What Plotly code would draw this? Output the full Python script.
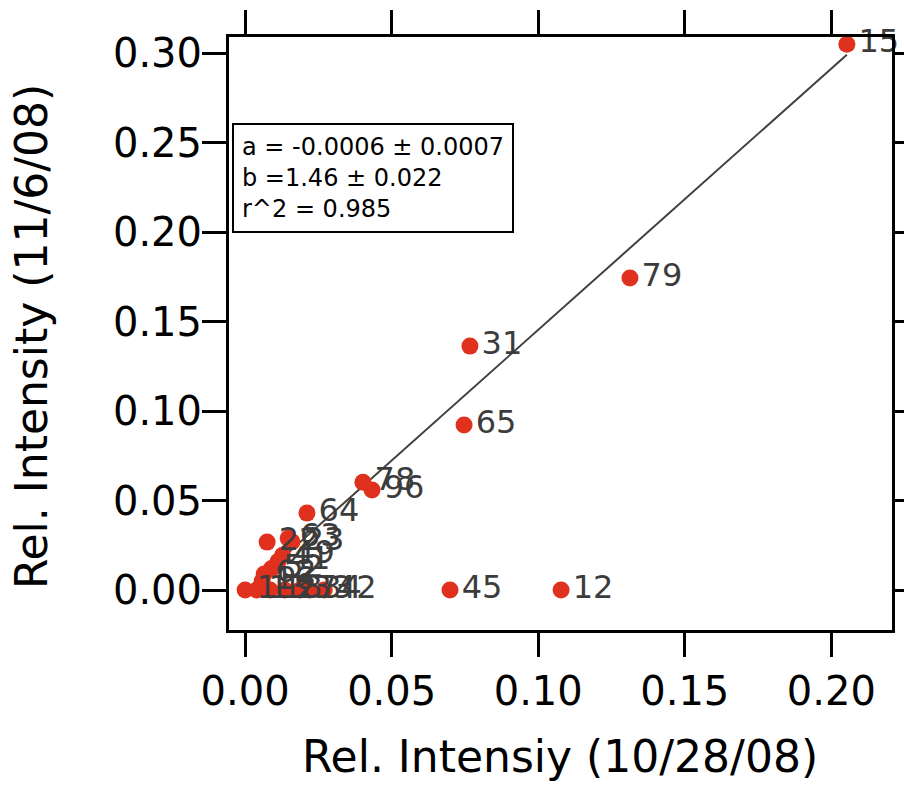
import plotly.graph_objects as go

# Peak intensities on the two sampling dates
peak_ids = ["15", "79", "31", "65", "78", "96", "64", "45", "12",
            "22", "63", "23", "49", "41", "52", "62", "16",
            "1", "13", "18", "27", "33", "34", "42"]
rel_1028 = [0.2053, 0.1313, 0.0767, 0.0747, 0.0402, 0.0433, 0.0211, 0.0699, 0.1078,
            0.0075, 0.0147, 0.0160, 0.0128, 0.0112, 0.0090, 0.0065, 0.0058,
            0.0000, 0.0040, 0.0085, 0.0135, 0.0187, 0.0220, 0.0270]
rel_1106 = [0.3050, 0.1743, 0.1363, 0.0922, 0.0603, 0.0559, 0.0430, 0.0000, 0.0000,
            0.0268, 0.0290, 0.0270, 0.0195, 0.0160, 0.0120, 0.0090, 0.0050,
            0.0000, 0.0000, 0.0000, 0.0000, 0.0000, 0.0000, 0.0000]

# Linear fit y = a + b*x
fit_a = -0.0006
fit_a_err = 0.0007
fit_b = 1.46
fit_b_err = 0.022
fit_r2 = 0.985

x_ticks = [0.00, 0.05, 0.10, 0.15, 0.20]
y_ticks = [0.00, 0.05, 0.10, 0.15, 0.20, 0.25, 0.30]

FONT = "DejaVu Sans"
x_lo, x_hi = min(rel_1028), max(rel_1028)
fit_x = [x_lo, x_hi]
fit_y = [fit_a + fit_b * v for v in fit_x]

fig = go.Figure()
fig.add_trace(go.Scatter(
    x=fit_x, y=fit_y, mode="lines",
    line=dict(color="#404040", width=2),
    hoverinfo="skip", showlegend=False,
))
fig.add_trace(go.Scatter(
    x=rel_1028, y=rel_1106, mode="markers+text",
    text=peak_ids, textposition="middle right",
    textfont=dict(family=FONT, size=32, color="#3c3c3c"),
    marker=dict(size=17, color="#e0301e"),
    cliponaxis=False, showlegend=False,
))

axis_common = dict(
    showline=True, linecolor="black", linewidth=3, mirror="ticks",
    ticks="outside", ticklen=24, tickwidth=3, tickcolor="black",
    showgrid=False, zeroline=False, automargin=False,
    tickfont=dict(family=FONT, size=40, color="black"),
)
fig.update_xaxes(range=[-0.0055, 0.2207], tickvals=x_ticks,
                 ticktext=[f"{v:.2f}" for v in x_ticks], **axis_common)
fig.update_yaxes(range=[-0.0223, 0.309], tickvals=y_ticks,
                 ticktext=[f"{v:.2f}" for v in y_ticks],
                 ticklabelstandoff=-8, **axis_common)

fit_text = (f"a = {fit_a:.4f} ± {fit_a_err:.4f}<br>"
            f"b ={fit_b:.2f} ± {fit_b_err:.3f}<br>"
            f"r^2 = {fit_r2:.3f}")

fig.update_layout(
    template="none",
    width=904, height=786,
    margin=dict(l=229, r=12, t=37, b=156),
    paper_bgcolor="white", plot_bgcolor="white",
    annotations=[
        dict(text=fit_text, xref="paper", yref="paper", x=0.0045, y=0.855,
             xanchor="left", yanchor="top", align="left", showarrow=False,
             font=dict(family=FONT, size=24, color="black"),
             bgcolor="white", bordercolor="black", borderwidth=2, borderpad=8),
        dict(text="Rel. Intensiy (10/28/08)", xref="paper", yref="paper",
             x=0.499, y=-0.2125, xanchor="center", yanchor="middle",
             showarrow=False, font=dict(family=FONT, size=44, color="black")),
        dict(text="Rel. Intensity (11/6/08)", xref="paper", yref="paper",
             x=-0.2986, y=0.494, xanchor="center", yanchor="middle",
             textangle=-90, showarrow=False,
             font=dict(family=FONT, size=44, color="black")),
    ],
)

fig.write_html("out.html")
